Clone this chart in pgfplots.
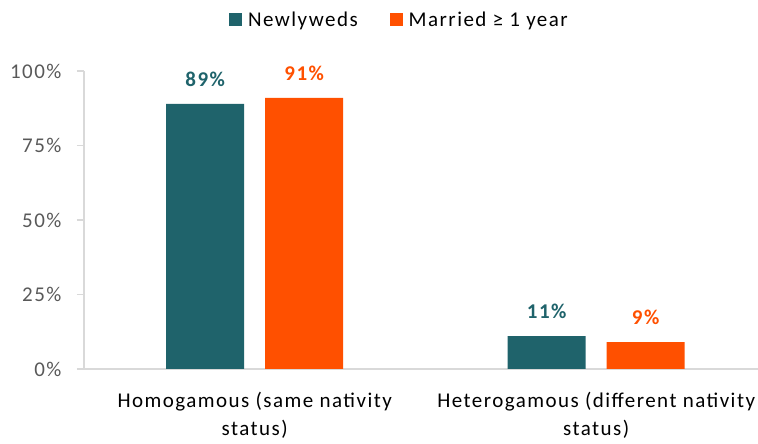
\documentclass[border=0pt]{standalone}
\usepackage{pgfplots}
\pgfplotsset{compat=1.18}
\usepackage{fontspec}
\setmainfont{Carlito}[LetterSpace=7]
\definecolor{teal1}{RGB}{31,99,107}
\definecolor{orng}{RGB}{255,80,0}
\definecolor{tickgray}{RGB}{89,89,89}
\definecolor{axgray}{RGB}{217,217,217}
\begin{document}
\begin{tikzpicture}[x=1pt,y=1pt]
\useasboundingbox (0,0) rectangle (758,444);
\begin{axis}[
  at={(84pt,75pt)}, anchor=south west,
  scale only axis, width=674pt, height=298pt,
  xmin=-0.5, xmax=1.474, ymin=0, ymax=100,
  /pgf/number format/assume math mode=true,
  ybar=21pt, bar width=78pt,
  axis x line=bottom, axis y line=left,
  axis line style={-, draw=axgray, line width=1.4pt},
  xtick={0,1},
  xticklabels={Homogamous (same nativity\\status), Heterogamous (different nativity\\status)},
  x tick label style={align=center, font=\fontsize{21}{28}\selectfont, text=black},
  xtick style={draw=none},
  ytick={0,25,50,75,100},
  yticklabels={0\%,25\%,50\%,75\%,100\%},
  y tick label style={font=\fontsize{21}{25}\selectfont, text=tickgray},
  ytick style={draw=axgray, line width=1.2pt},
  tick align=outside, major tick length=7pt,
  yticklabel style={xshift=-12pt},
  xticklabel style={yshift=-13pt},
  nodes near coords={\pgfmathprintnumber{\pgfplotspointmeta}\%},
  nodes near coords style={font=\fontsize{21}{25}\selectfont\bfseries, yshift=14pt},
  legend style={at={(0.468,1)}, yshift=51pt, anchor=center, draw=none, fill=none,
    font=\fontsize{21}{25}\selectfont, legend columns=2,
    /tikz/every odd column/.append style={column sep=4pt},
    /tikz/every even column/.append style={column sep=30pt}},
  legend image code/.code={\fill (0pt,-6.5pt) rectangle (13pt,6.5pt);},
]
\addplot[fill=teal1, draw=none, every node near coord/.append style={text=teal1}] coordinates {(0,89) (1,11)};
\addplot[fill=orng, draw=none, every node near coord/.append style={text=orng}] coordinates {(0,91) (1,9)};
\legend{Newlyweds, Married ≥ 1 year}
\end{axis}
\end{tikzpicture}
\end{document}
